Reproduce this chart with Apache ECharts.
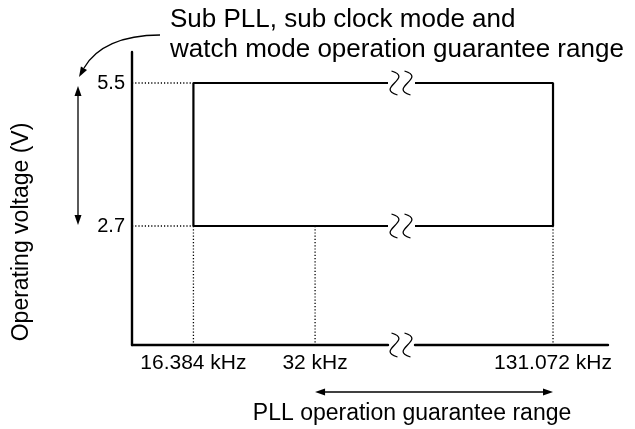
<!DOCTYPE html>
<html>
<head>
<meta charset="utf-8">
<title>Operation guarantee range</title>
<script src="https://cdn.jsdelivr.net/npm/echarts@6.0.0/dist/echarts.min.js"></script>
<style>
    html, body { margin: 0; padding: 0; background: #fff; }
    #main { width: 635px; height: 429px; }
</style>
</head>
<body>
<div id="main"></div>
<script>
    // values
    var freqTicks = [16.384, 32, 131.072];   // kHz
    var voltTicks = [2.7, 5.5];              // V
    // sub PLL / sub clock / watch mode box
    var subFreq = [16.384, 131.072];
    var subVolt = [2.7, 5.5];
    // PLL operation range
    var pllFreq = [32, 131.072];
    // axis extents, x axis is broken in two parts
    var xLeft = [8.5, 41.36];
    var xRight = [113.38, 138.12];
    var yExtent = [0.37, 6.107];

    var FONT = '"Liberation Sans", Arial, Helvetica, sans-serif';
    var chart = echarts.init(document.getElementById('main'));

    function seg(g, pts, dotted) {
        return {
            type: 'line', xAxisIndex: g, yAxisIndex: g, data: pts,
            symbol: 'none', silent: true, animation: false, clip: false,
            lineStyle: { color: '#000', width: dotted ? 1.3 : 2.2, type: dotted ? [1.2, 2] : 'solid' }
        };
    }

    function xAx(g, ext) {
        return {
            gridIndex: g, type: 'value', min: ext[0], max: ext[1],
            axisLine: { show: true, onZero: false, lineStyle: { color: '#000', width: 2.4 } },
            axisTick: { show: false }, splitLine: { show: false },
            axisLabel: {
                customValues: freqTicks.filter(function (f) { return f >= ext[0] && f <= ext[1]; }),
                formatter: function (v) { return v + ' kHz'; },
                color: '#000', fontSize: 21, fontFamily: FONT, margin: 8
            }
        };
    }

    var series = [
        seg(0, [[xLeft[1], subVolt[1]], [subFreq[0], subVolt[1]], [subFreq[0], subVolt[0]], [xLeft[1], subVolt[0]]]),
        seg(1, [[xRight[0], subVolt[1]], [subFreq[1], subVolt[1]], [subFreq[1], subVolt[0]], [xRight[0], subVolt[0]]])
    ];
    voltTicks.forEach(function (v) {
        series.push(seg(0, [[xLeft[0], v], [subFreq[0], v]], true));
    });
    freqTicks.forEach(function (f) {
        series.push(seg(f <= xLeft[1] ? 0 : 1, [[f, subVolt[0]], [f, yExtent[0]]], true));
    });

    chart.setOption({
        animation: false,
        grid: [
            { left: 132, right: 247, top: 52, bottom: 84 },
            { left: 415, right: 27, top: 52, bottom: 84 }
        ],
        xAxis: [xAx(0, xLeft), xAx(1, xRight)],
        yAxis: [
            {
                gridIndex: 0, type: 'value', min: yExtent[0], max: yExtent[1],
                axisLine: { show: true, lineStyle: { color: '#000', width: 2.4 } },
                axisTick: { show: false }, splitLine: { show: false },
                axisLabel: { customValues: voltTicks, color: '#000', fontSize: 20, fontFamily: FONT, margin: 7 }
            },
            { gridIndex: 1, type: 'value', min: yExtent[0], max: yExtent[1], show: false, splitLine: { show: false } }
        ],
        series: series
    });

    // annotations
    function px(g, x, y) { return chart.convertToPixel({ gridIndex: g }, [x, y]); }

    function head(tx, ty, dx, dy) {
        var len = Math.sqrt(dx * dx + dy * dy); dx /= len; dy /= len;
        var L = 10, W = 3.5;
        return {
            type: 'polygon', silent: true,
            shape: { points: [[tx, ty], [tx - L * dx - W * dy, ty - L * dy + W * dx], [tx - L * dx + W * dy, ty - L * dy - W * dx]] },
            style: { fill: '#000' }
        };
    }
    function line(x1, y1, x2, y2) {
        return { type: 'line', silent: true, shape: { x1: x1, y1: y1, x2: x2, y2: y2 }, style: { stroke: '#000', lineWidth: 1.3 } };
    }
    function wave(cx, cy) {
        return {
            type: 'bezierCurve', silent: true,
            shape: { x1: cx - 3, y1: cy - 12, cpx1: cx + 20, cpy1: cy - 5, cpx2: cx - 20, cpy2: cy + 5, x2: cx + 3, y2: cy + 12 },
            style: { stroke: '#000', lineWidth: 1.3, fill: null }
        };
    }
    function text(s, x, y, size, align, rot) {
        return {
            type: 'text', silent: true, x: x, y: y, rotation: rot || 0,
            style: { text: s, font: size + 'px ' + FONT, fill: '#000', align: align, verticalAlign: 'middle' }
        };
    }

    var gfx = [];
    var brkMid = (px(0, xLeft[1], 0)[0] + px(1, xRight[0], 0)[0]) / 2;
    [subVolt[1], subVolt[0], yExtent[0]].forEach(function (v) {
        var y = px(0, xLeft[0], v)[1];
        gfx.push(wave(brkMid - 7, y), wave(brkMid + 6, y));
    });

    // voltage range double arrow
    var yTop = px(0, xLeft[0], subVolt[1])[1] + 3;
    var yBot = px(0, xLeft[0], subVolt[0])[1] - 1;
    gfx.push(line(78, yTop + 6, 78, yBot - 6), head(78, yTop, 0, -1), head(78, yBot, 0, 1));

    // PLL range double arrow
    var xa = px(0, pllFreq[0], 0)[0];
    var xb = px(1, pllFreq[1], 0)[0];
    gfx.push(line(xa + 6, 392, xb - 6, 392), head(xa, 392, -1, 0), head(xb, 392, 1, 0));
    gfx.push(text('PLL operation guarantee range', (xa + xb) / 2 - 22, 414, 23, 'center'));

    // curved pointer to the voltage range
    gfx.push({
        type: 'bezierCurve', silent: true,
        shape: { x1: 160, y1: 35, cpx1: 122, cpy1: 35, cpx2: 96, cpy2: 47, x2: 84, y2: 68 },
        style: { stroke: '#000', lineWidth: 1.3, fill: null }
    });
    gfx.push(head(79, 77, -12, 21));

    gfx.push(text('Sub PLL, sub clock mode and', 170, 20, 26, 'left'));
    gfx.push(text('watch mode operation guarantee range', 170, 50, 26, 'left'));
    gfx.push(text('Operating voltage (V)', 22, 232, 23, 'center', Math.PI / 2));

    chart.setOption({ graphic: gfx });
</script>
</body>
</html>
